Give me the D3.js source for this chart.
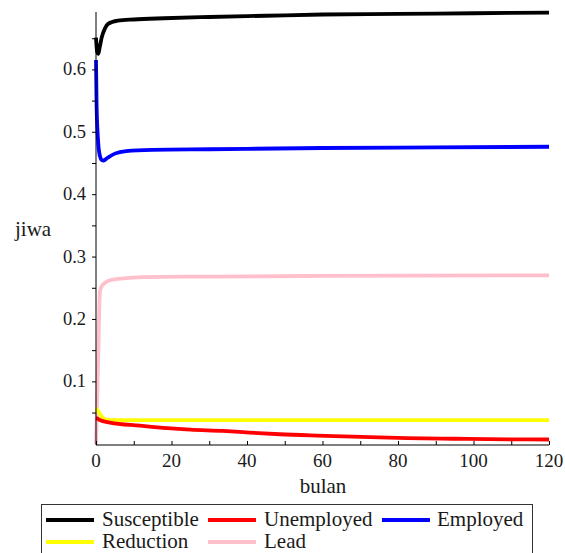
<!DOCTYPE html>
<html lang="en">
<head>
<meta charset="utf-8">
<script src="https://cdn.jsdelivr.net/npm/d3@7"></script>
<title>jiwa vs bulan</title>
<style>
  body { margin: 0; background: #fff; }
</style>
</head>
<body>
<svg width="565" height="553" font-family="'Liberation Serif', 'DejaVu Serif', serif"></svg>
<script>
// data: [bulan, jiwa]
var susceptible = [[0,0.651],[0.3,0.628],[0.6,0.625],[1.0,0.636],[1.5,0.651],[2.4,0.666],[3.2,0.673],[5.8,0.678],[10,0.680],[18,0.682],[30,0.684],[45,0.686],[60,0.688],[80,0.689],[100,0.690],[120,0.691]];
var unemployed  = [[0,0.041],[0.5,0.040],[1,0.038],[3.7,0.034],[11.7,0.029],[18.8,0.025],[25,0.0225],[33.6,0.0205],[39,0.0185],[48.7,0.0152],[58.5,0.013],[72.6,0.0105],[82.4,0.009],[95,0.008],[110,0.007],[120,0.0068]];
var employed    = [[0,0.615],[0.15,0.545],[0.5,0.49],[1.0,0.462],[1.5,0.455],[2.0,0.454],[3,0.458],[5,0.465],[8,0.469],[15,0.471],[30,0.472],[60,0.474],[90,0.475],[120,0.476]];
var reduction   = [[0,0.057],[0.5,0.053],[1,0.048],[1.6,0.043],[2.4,0.039],[4,0.038],[120,0.038]];
var lead        = [[0,0.0],[0.3,0.07],[0.6,0.14],[0.8,0.20],[1.06,0.244],[1.5,0.252],[2.4,0.258],[3.7,0.262],[7.2,0.265],[12.5,0.267],[30,0.268],[60,0.269],[120,0.270]];

var xTicks = [0,20,40,60,80,100,120];
var yTicks = [0.1,0.2,0.3,0.4,0.5,0.6];

var series = [
  {name:"Susceptible", color:"#000000", data:susceptible},
  {name:"Unemployed",  color:"#ff0000", data:unemployed},
  {name:"Employed",    color:"#0000ff", data:employed},
  {name:"Reduction",   color:"#ffff00", data:reduction},
  {name:"Lead",        color:"#ffc0cb", data:lead}
];

var svg = d3.select("svg");
var ink = "#1a1a1a";

var x = d3.scaleLinear().domain([0,120]).range([96,549]);
var y = d3.scaleLinear().domain([-0.002,0.692]).range([445,12]);

var line = d3.line()
  .x(function(d){ return x(d[0]); })
  .y(function(d){ return y(d[1]); })
  .curve(d3.curveMonotoneX);

// draw in reverse so black ends on top
var drawOrder = [series[4], series[3], series[1], series[2], series[0]];
svg.selectAll(".curve")
  .data(drawOrder)
  .enter().append("path")
  .attr("class","curve")
  .attr("fill","none")
  .attr("stroke", function(d){ return d.color; })
  .attr("stroke-width", 3.8)
  .attr("d", function(d){ return line(d.data); });

// x axis, ticks point up into the plot
var xAxis = svg.append("g")
  .attr("transform","translate(0,445)")
  .call(d3.axisBottom(x).tickValues(d3.range(0,121,10)).tickSize(-4).tickFormat(""));
xAxis.select(".domain").attr("d","M96,0H549");
xAxis.selectAll("line").attr("stroke","#000");

svg.append("g").selectAll("text")
  .data(xTicks)
  .enter().append("text")
  .attr("x", function(d){ return x(d); })
  .attr("y", 467)
  .attr("text-anchor","middle")
  .attr("font-size",19)
  .attr("fill",ink)
  .text(function(d){ return d; });

// y axis, ticks point left
var yAxis = svg.append("g")
  .attr("transform","translate(96,0)")
  .call(d3.axisLeft(y).tickValues(d3.range(1,14).map(function(i){ return i*0.05; })).tickSize(4).tickFormat(""));
yAxis.select(".domain").attr("d","M0,445V12");
yAxis.selectAll("line").attr("stroke","#000");

svg.append("g").selectAll("text")
  .data(yTicks)
  .enter().append("text")
  .attr("x", 86)
  .attr("y", function(d){ return y(d) + 6; })
  .attr("text-anchor","end")
  .attr("font-size",18.5)
  .attr("fill",ink)
  .text(function(d){ return d3.format(".1f")(d); });

svg.append("text")
  .attr("x", 323).attr("y", 493)
  .attr("text-anchor","middle")
  .attr("font-size",21)
  .attr("fill",ink)
  .text("bulan");

svg.append("text")
  .attr("x", 15).attr("y", 236)
  .attr("font-size",21)
  .attr("fill",ink)
  .text("jiwa");

// legend
svg.append("rect")
  .attr("x",41.5).attr("y",504.5)
  .attr("width",491).attr("height",60)
  .attr("fill","none").attr("stroke","#333").attr("stroke-width",1);

var legendPos = [[46,520],[208,520],[382,520],[46,542],[208,542]];
var leg = svg.append("g").selectAll("g")
  .data(series)
  .enter().append("g")
  .attr("transform", function(d,i){ return "translate(" + legendPos[i][0] + "," + legendPos[i][1] + ")"; });
leg.append("line")
  .attr("x1",0).attr("x2",48)
  .attr("stroke", function(d){ return d.color; })
  .attr("stroke-width",3.8);
leg.append("text")
  .attr("x", function(d,i){ return i==2 ? 55 : 56; })
  .attr("y", 6)
  .attr("font-size",21)
  .attr("fill",ink)
  .text(function(d){ return d.name; });
</script>
</body>
</html>
